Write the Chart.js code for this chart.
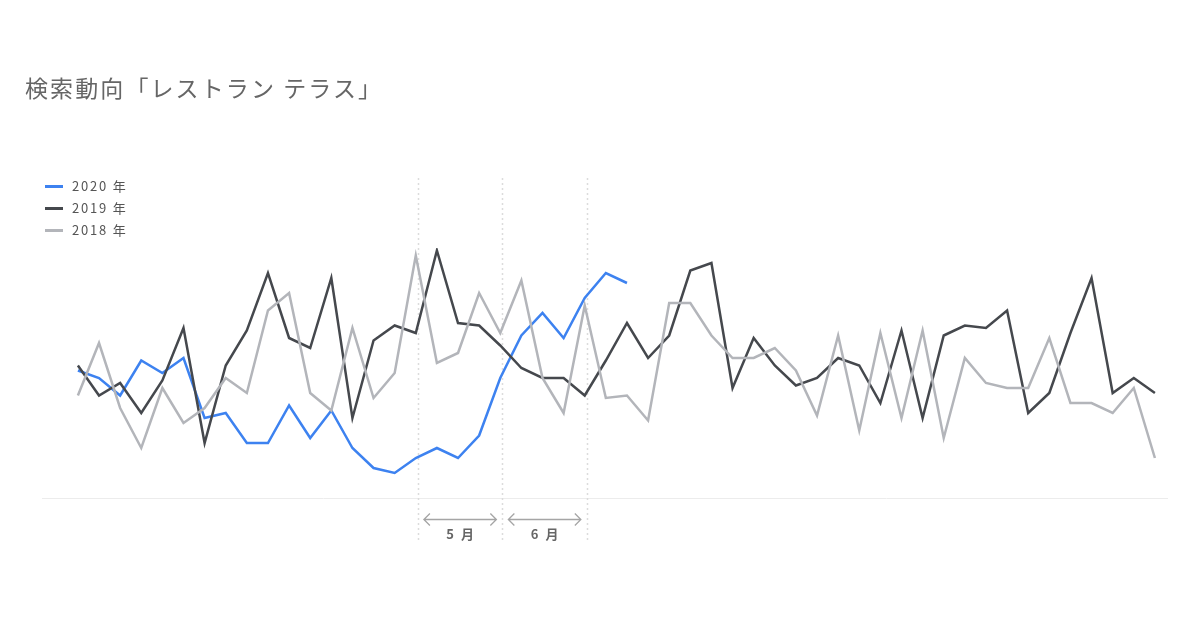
<!DOCTYPE html>
<html lang="ja">
<head>
<meta charset="utf-8">
<script src="https://cdn.jsdelivr.net/npm/chart.js@4"></script>
<style>
  html, body { margin: 0; padding: 0; background: #fff; }
  #wrap { position: relative; width: 1200px; height: 630px; }
  #chart { position: absolute; left: 0; top: 0; }
  .title {
    position: absolute; left: 25px; top: 70px;
    font-family: "Noto Sans CJK JP", "Noto Sans", sans-serif;
    font-size: 23px; color: #666; letter-spacing: 2.1px;
  }
  .legend {
    position: absolute; left: 45px; top: 176px;
    font-family: "Noto Sans CJK JP", "Noto Sans", sans-serif;
    font-size: 13px; color: #555; letter-spacing: 1.8px;
  }
  .legend div { height: 22px; line-height: 20px; }
  .legend span.sw { display: inline-block; width: 18px; height: 3px; vertical-align: middle; margin-right: 9px; position: relative; top: -1px; }
</style>
</head>
<body>
<div id="wrap">
  <canvas id="chart" width="1200" height="630"></canvas>
  <div class="title">検索動向「レストラン テラス」</div>
  <div class="legend" id="legend"></div>
</div>
<script>
// weekly search interest (0-100)
const seriesNames = ['2020 年', '2019 年', '2018 年'];
const seriesColors = ['#3d82f0', '#45484d', '#b3b5ba'];

const values2020 = [51, 48, 41, 55, 50, 56, 32, 34, 22, 22, 37, 24, 35, 20, 12, 10, 16, 20, 16, 25,
  48, 65, 74, 64, 80, 90, 86];
const values2019 = [53, 41, 46, 34, 47, 68, 22, 53, 67, 90, 64, 60, 88, 32, 63, 69, 66, 99, 70, 69,
  61, 52, 48, 48, 41, 55, 70, 56, 65, 91, 94, 44, 64, 53, 45, 48, 56, 53, 38, 67,
  32, 65, 69, 68, 75, 34, 42, 66, 88, 42, 48, 42];
const values2018 = [41, 62, 36, 20, 44, 30, 36, 48, 42, 75, 82, 42, 35, 68, 40, 50, 97, 54, 58, 82,
  66, 87, 48, 34, 77, 40, 41, 31, 78, 78, 65, 56, 56, 60, 51, 33, 65, 27, 66, 32,
  67, 24, 56, 46, 44, 44, 64, 38, 38, 34, 44, 16];

// month boundaries (week index) and labels
const monthBounds = [16.1, 20.1, 24.1];
const monthLabels = ['5 月', '6 月'];

const allSeries = [values2020, values2019, values2018];

const legendDiv = document.getElementById('legend');
seriesNames.forEach((name, i) => {
  const row = document.createElement('div');
  row.innerHTML = '<span class="sw" style="background:' + seriesColors[i] + '"></span>' + name;
  legendDiv.appendChild(row);
});

const decorPlugin = {
  id: 'decor',
  beforeDatasetsDraw(chart) {
    const { ctx, chartArea, scales } = chart;
    ctx.save();
    // baseline
    ctx.strokeStyle = '#ececec';
    ctx.lineWidth = 1;
    ctx.beginPath();
    ctx.moveTo(chartArea.left, chartArea.bottom + 0.5);
    ctx.lineTo(chartArea.right, chartArea.bottom + 0.5);
    ctx.stroke();
    // month dividers
    ctx.strokeStyle = '#dcdcdc';
    ctx.lineWidth = 1.5;
    ctx.setLineDash([2, 3]);
    monthBounds.forEach((b) => {
      const x = Math.round(scales.x.getPixelForValue(b)) + 0.5;
      ctx.beginPath();
      ctx.moveTo(x, 178);
      ctx.lineTo(x, 541);
      ctx.stroke();
    });
    ctx.restore();
  },
  afterDraw(chart) {
    const { ctx, scales } = chart;
    ctx.save();
    ctx.strokeStyle = '#a5a5a5';
    ctx.lineWidth = 1.3;
    ctx.fillStyle = '#666';
    ctx.font = 'bold 13px "Noto Sans CJK JP", sans-serif';
    ctx.letterSpacing = '2px';
    ctx.textAlign = 'center';
    ctx.textBaseline = 'middle';
    monthLabels.forEach((label, i) => {
      const x1 = scales.x.getPixelForValue(monthBounds[i]) + 6;
      const x2 = scales.x.getPixelForValue(monthBounds[i + 1]) - 6;
      const y = 519.5;
      ctx.beginPath();
      ctx.moveTo(x1, y);
      ctx.lineTo(x2, y);
      ctx.moveTo(x1 + 6, y - 6);
      ctx.lineTo(x1, y);
      ctx.lineTo(x1 + 6, y + 6);
      ctx.moveTo(x2 - 6, y - 6);
      ctx.lineTo(x2, y);
      ctx.lineTo(x2 - 6, y + 6);
      ctx.stroke();
      ctx.fillText(label, (x1 + x2) / 2 + 1, 534);
    });
    ctx.restore();
  }
};

new Chart(document.getElementById('chart'), {
  type: 'line',
  data: {
    datasets: allSeries.map((vals, i) => ({
      label: seriesNames[i],
      data: vals.map((v, idx) => ({ x: idx, y: v })),
      borderColor: seriesColors[i],
      borderWidth: 2.5,
      pointRadius: 0,
      tension: 0,
      fill: false
    })).reverse()
  },
  options: {
    responsive: false,
    animation: false,
    layout: { padding: { left: 42, right: 32, top: 248, bottom: 132 } },
    plugins: { legend: { display: false }, tooltip: { enabled: false } },
    scales: {
      x: { type: 'linear', display: false, min: -1.7, max: 51.62 },
      y: { display: false, min: 0, max: 100 }
    }
  },
  plugins: [decorPlugin]
});
</script>
</body>
</html>
